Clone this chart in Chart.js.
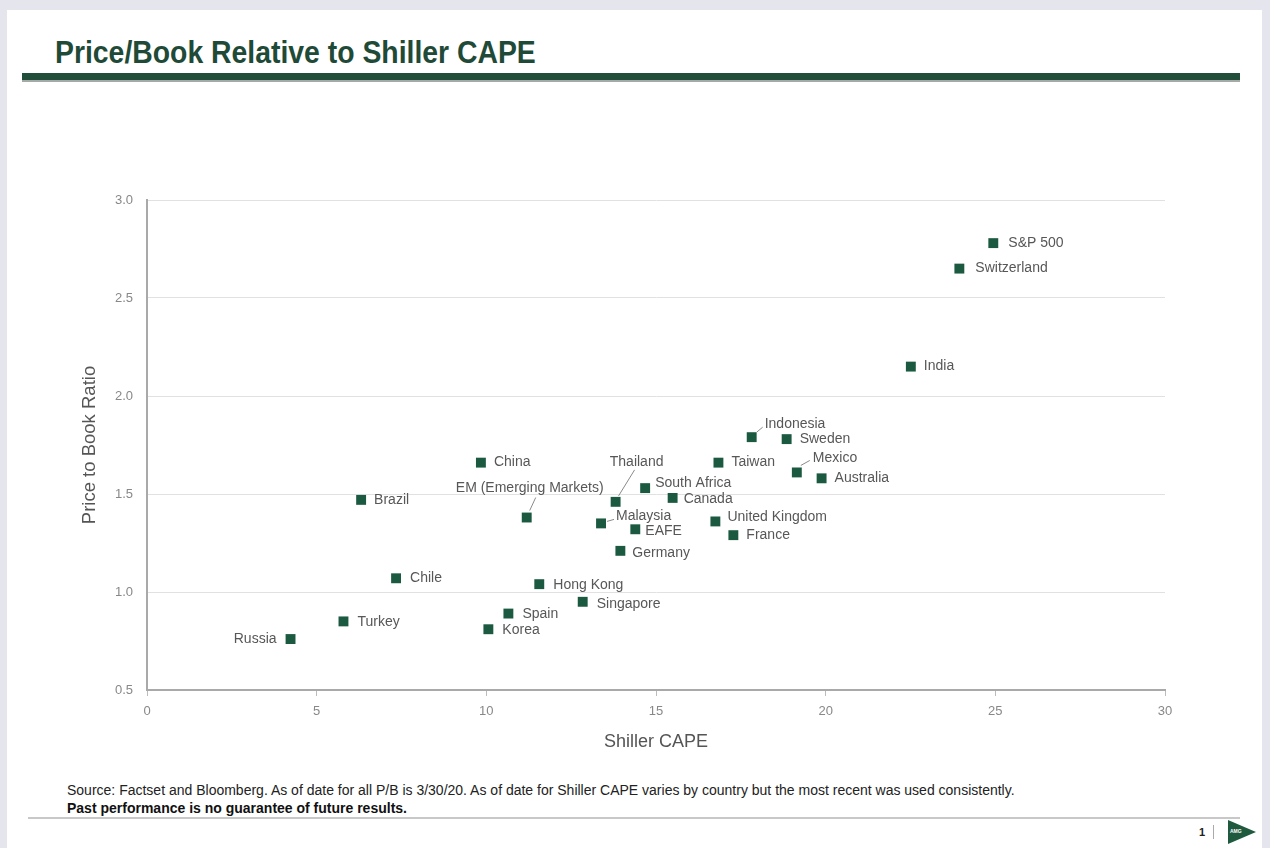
<!DOCTYPE html>
<html>
<head>
<meta charset="utf-8">
<script src="https://cdn.jsdelivr.net/npm/chart.js@4.4.1/dist/chart.umd.min.js"></script>
<style>
  html, body { margin: 0; padding: 0; }
  body { width: 1270px; height: 848px; background: #e5e5ee; position: relative; overflow: hidden;
         font-family: "Liberation Sans", Arial, sans-serif; }
  #card { position: absolute; left: 7px; top: 10px; width: 1255px; height: 838px; background: #ffffff; }
  #title { position: absolute; left: 55px; top: 35px; font-family: "Liberation Sans", Arial, sans-serif;
           font-weight: bold; font-size: 31px; color: #1f4a38; white-space: nowrap; line-height: 36px;
           transform: scaleX(0.915); transform-origin: 0 0; }
  #titlebar { position: absolute; left: 22px; top: 73px; width: 1218px; height: 7px; background: #214d3b; }
  #titleshadow { position: absolute; left: 22px; top: 80px; width: 1218px; height: 2px; background: #a5aaa7; }
  #chartbox { position: absolute; left: 0px; top: 150px; width: 1270px; height: 620px; }
  #source { position: absolute; left: 67px; top: 782px; font-family: "Liberation Sans", Arial, sans-serif;
            font-size: 14px; color: #222; white-space: nowrap; }
  #disclaimer { position: absolute; left: 67px; top: 800px; font-family: "Liberation Sans", Arial, sans-serif;
            font-size: 14px; font-weight: bold; color: #111; white-space: nowrap; }
  #footline { position: absolute; left: 28px; top: 817px; width: 1212px; height: 2px; background: #c8c8c8; }
  #pagenum { position: absolute; left: 1199px; top: 826px; font-size: 11px; font-weight: bold; color: #222; }
  #pagesep { position: absolute; left: 1213px; top: 825px; width: 1px; height: 14px; background: #aaa; }
  #logo { position: absolute; left: 1228px; top: 820px; width: 0; height: 0;
          border-top: 12px solid transparent; border-bottom: 12px solid transparent; border-left: 28px solid #1f5a3e; }
  #logotxt { position: absolute; left: 1230px; top: 828px; font-size: 5px; color: #fff; font-weight: bold; }
</style>
</head>
<body>
<div id="card"></div>
<div id="title">Price/Book Relative to Shiller CAPE</div>
<div id="titlebar"></div>
<div id="titleshadow"></div>
<div id="chartbox"><canvas id="c"></canvas></div>
<div id="source">Source: Factset and Bloomberg. As of date for all P/B is 3/30/20. As of date for Shiller CAPE varies by country but the most recent was used consistently.</div>
<div id="disclaimer">Past performance is no guarantee of future results.</div>
<div id="footline"></div>
<div id="pagenum">1</div>
<div id="pagesep"></div>
<div id="logo"></div>
<div id="logotxt">AMG</div>
<script>
// ---- data ----
const countries = [
  "S&P 500", "Switzerland", "India", "Indonesia", "Sweden", "Taiwan", "Mexico", "Australia",
  "China", "Brazil", "EM (Emerging Markets)", "Thailand", "South Africa", "Canada", "Malaysia",
  "EAFE", "United Kingdom", "France", "Germany", "Chile", "Hong Kong", "Singapore", "Spain",
  "Korea", "Turkey", "Russia"
];
const shillerCape = [
  24.94, 23.94, 22.51, 17.82, 18.85, 16.84, 19.15, 19.88,
  9.84, 6.31, 11.19, 13.81, 14.68, 15.49, 13.38,
  14.39, 16.75, 17.28, 13.95, 7.34, 11.56, 12.84, 10.65,
  10.06, 5.79, 4.23
];
const priceToBook = [
  2.78, 2.65, 2.15, 1.79, 1.78, 1.66, 1.61, 1.58,
  1.66, 1.47, 1.38, 1.46, 1.53, 1.48, 1.35,
  1.32, 1.36, 1.29, 1.21, 1.07, 1.04, 0.95, 0.89,
  0.81, 0.85, 0.76
];
const xAxisTitle = "Shiller CAPE";
const yAxisTitle = "Price to Book Ratio";

// ---- label placement (styling only: pixel offsets from each point) ----
const defaultPlacement = { dx: 13, dy: 0, align: "left" };
const labelPlacement = {
  "S&P 500": { dx: 15, dy: 0, align: "left" },
  "Switzerland": { dx: 16, dy: 0, align: "left" },
  "Russia": { dx: -14, dy: 0, align: "right" },
  "Thailand": { dx: 21, dy: -40, align: "center", leader: [3, -6, 19, -32] },
  "EM (Emerging Markets)": { dx: 3, dy: -29, align: "center", leader: [3, -7, 9, -20] },
  "Indonesia": { dx: 13, dy: -13, align: "left", leader: [5, -5, 11, -10] },
  "Mexico": { dx: 16, dy: -14, align: "left", leader: [4, -7, 13, -12] },
  "Malaysia": { dx: 15, dy: -7, align: "left", leader: [6, -2, 13, -4] },
  "EAFE": { dx: 10, dy: 2, align: "left" },
  "South Africa": { dx: 10, dy: -5, align: "left" },
  "Canada": { dx: 11, dy: 1, align: "left" },
  "United Kingdom": { dx: 12, dy: -4, align: "left" },
  "Chile": { dx: 14, dy: 0, align: "left" },
  "Hong Kong": { dx: 14, dy: 1, align: "left" },
  "Singapore": { dx: 14, dy: 2, align: "left" },
  "Spain": { dx: 14, dy: 1, align: "left" },
  "Korea": { dx: 14, dy: 1, align: "left" },
  "Turkey": { dx: 14, dy: 1, align: "left" },
  "Germany": { dx: 12, dy: 2, align: "left" }
};

const points = shillerCape.map((x, i) => ({ x: x, y: priceToBook[i] }));

const pointLabels = {
  id: "pointLabels",
  afterDatasetsDraw(chart) {
    const ctx = chart.ctx;
    const meta = chart.getDatasetMeta(0);
    ctx.save();
    ctx.font = '14px "Liberation Sans", Arial, sans-serif';
    ctx.fillStyle = "#575757";
    ctx.textBaseline = "middle";
    meta.data.forEach((el, i) => {
      const name = countries[i];
      const p = labelPlacement[name] || defaultPlacement;
      if (p.leader) {
        ctx.beginPath();
        ctx.strokeStyle = "#8a8a8a";
        ctx.lineWidth = 1;
        ctx.moveTo(el.x + p.leader[0], el.y + p.leader[1]);
        ctx.lineTo(el.x + p.leader[2], el.y + p.leader[3]);
        ctx.stroke();
      }
      ctx.textAlign = p.align;
      ctx.fillText(name, el.x + p.dx, el.y + p.dy);
    });
    ctx.restore();
  }
};

const fam = '"Liberation Sans", Arial, sans-serif';

new Chart(document.getElementById("c"), {
  type: "scatter",
  data: {
    datasets: [{
      data: points,
      pointStyle: "rect",
      pointRadius: 7,
      pointHoverRadius: 7,
      backgroundColor: "#1b5a40",
      borderColor: "#1b5a40",
      borderWidth: 0
    }]
  },
  options: {
    responsive: true,
    maintainAspectRatio: false,
    animation: false,
    events: [],
    layout: { padding: { left: 0, right: 105, top: 50, bottom: 0 } },
    plugins: { legend: { display: false }, tooltip: { enabled: false }, title: { display: false } },
    scales: {
      x: {
        type: "linear",
        min: 0, max: 30,
        ticks: { stepSize: 5, color: "#888", padding: 8, font: { family: fam, size: 13 } },
        grid: { display: true, drawOnChartArea: false, drawTicks: true, tickLength: 6, color: "#bcbcbc" },
        border: { display: true, color: "#a9a9a9", width: 2 },
        title: { display: true, text: xAxisTitle, color: "#555", font: { family: fam, size: 18 }, padding: { top: 0, bottom: 17 } },
        afterFit(s) { s.height = 80; }
      },
      y: {
        type: "linear",
        min: 0.5, max: 3.0,
        ticks: { stepSize: 0.5, color: "#888", padding: 14, font: { family: fam, size: 13 },
                 callback: (v) => Number(v).toFixed(1) },
        grid: { display: true, drawOnChartArea: true, drawTicks: false, color: "#e1e1e1", lineWidth: 1 },
        border: { display: true, color: "#a9a9a9", width: 2 },
        title: { display: true, text: yAxisTitle, color: "#555", font: { family: fam, size: 18.5 }, padding: { top: 79, bottom: 0 } },
        afterFit(s) { s.width = 147; }
      }
    }
  },
  plugins: [pointLabels]
});
</script>
</body>
</html>
